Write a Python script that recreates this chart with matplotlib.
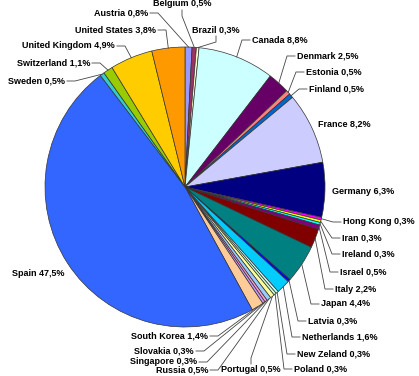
"""Pie chart of shares by country, Excel-2003 look."""
import numpy as np
import matplotlib
matplotlib.use("Agg")
import matplotlib.pyplot as plt

countries = [
    "Austria", "Belgium", "Brazil", "Canada", "Denmark", "Estonia", "Finland",
    "France", "Germany", "Hong Kong", "Iran", "Ireland", "Israel", "Italy",
    "Japan", "Latvia", "Netherlands", "New Zeland", "Poland", "Portugal",
    "Russia", "Singapore", "Slovakia", "South Korea", "Spain", "Sweden",
    "Switzerland", "United Kingdom", "United States",
]
shares = [
    0.8, 0.5, 0.3, 8.8, 2.5, 0.5, 0.5,
    8.2, 6.3, 0.3, 0.3, 0.3, 0.5, 2.2,
    4.4, 0.3, 1.6, 0.3, 0.3, 0.5,
    0.5, 0.3, 0.3, 1.4, 47.5, 0.5,
    1.1, 4.9, 3.8,
]
colors = [
    "#9999FF", "#993366", "#FFFFCC", "#CCFFFF", "#660066", "#FF8080", "#0066CC",
    "#CCCCFF", "#000080", "#FF00FF", "#FFFF00", "#00FFFF", "#800080", "#800000",
    "#008080", "#0000FF", "#00CCFF", "#CCFFFF", "#CCFFCC", "#FFFF99",
    "#99CCFF", "#FF99CC", "#CC99FF", "#FFCC99", "#3366FF", "#33CCCC",
    "#99CC00", "#FFCC00", "#FF9900",
]

W, H = 419, 376
CX, CY = 185, 187          # pie centre, pixels from top-left
RADIUS = 140

# label placement in pixels from top-left: x, y, alignment, leader style
label_layout = {
    "Austria": (148, 13, "right", "h"),
    "Belgium": (182, 4, "center", "down"),
    "Brazil": (216, 30, "center", "down"),
    "Canada": (252, 40, "left", "h"),
    "Denmark": (297, 56, "left", "h"),
    "Estonia": (306, 72, "left", "h"),
    "Finland": (309, 89, "left", "h"),
    "France": (318, 124, "left", None),
    "Germany": (332, 191, "left", None),
    "Hong Kong": (343, 222, "left", "h"),
    "Iran": (342, 238, "left", "h"),
    "Ireland": (342, 254, "left", "h"),
    "Israel": (340, 272, "left", "h"),
    "Italy": (335, 289, "left", "h"),
    "Japan": (321, 304, "left", "h"),
    "Latvia": (308, 321, "left", "h"),
    "Netherlands": (302, 337, "left", "h"),
    "New Zeland": (297, 354, "left", "h"),
    "Poland": (294, 369, "left", "h"),
    "Portugal": (251, 370, "center", "up"),
    "Russia": (208, 370, "right", "h"),
    "Singapore": (197, 362, "right", "h"),
    "Slovakia": (194, 351, "right", "h"),
    "South Korea": (208, 336, "right", "h"),
    "Spain": (12, 274, "left", None),
    "Sweden": (65, 81, "right", "h"),
    "Switzerland": (90, 63, "right", "h"),
    "United Kingdom": (115, 46, "right", "h"),
    "United States": (156, 30, "right", "h"),
}

plt.rcParams["font.family"] = ["Liberation Sans", "DejaVu Sans"]

fig = plt.figure(figsize=(W / 100, H / 100), dpi=100)
ax = fig.add_axes([0, 0, 1, 1])
ax.pie(shares, colors=colors, startangle=90, counterclock=False,
       center=(CX, H - CY), radius=RADIUS,
       wedgeprops=dict(edgecolor="#333333", linewidth=0.5))
ax.set_xlim(0, W)
ax.set_ylim(0, H)
ax.set_aspect("equal")
ax.axis("off")

total = sum(shares)
cum = np.cumsum(shares) - np.array(shares) / 2
for name, share, mid in zip(countries, shares, cum):
    x, y, ha, style = label_layout[name]
    text = f"{name} {share:.1f}%".replace(".", ",")
    ax.text(x, H - y, text, ha=ha, va="center", fontsize=6.5,
            fontweight="bold", color="black")
    if style is None:
        continue
    theta = np.radians(90 - mid / total * 360)
    anchor = (CX + RADIUS * np.cos(theta), CY - RADIUS * np.sin(theta))
    if style == "h":
        sgn = -1 if ha == "left" else 1
        x0 = x + 2 * sgn
        pts = [(x0, y), (x0 + 8 * sgn, y), anchor]
    elif style == "down":
        pts = [(x, y + 6), (x, y + 12), anchor]
    else:
        pts = [(x, y - 6), (x, y - 12), anchor]
    px = [p[0] for p in pts]
    py = [H - p[1] for p in pts]
    ax.plot(px, py, color="#444444", linewidth=0.6, solid_joinstyle="miter")

fig.savefig("out.png", dpi=100)
